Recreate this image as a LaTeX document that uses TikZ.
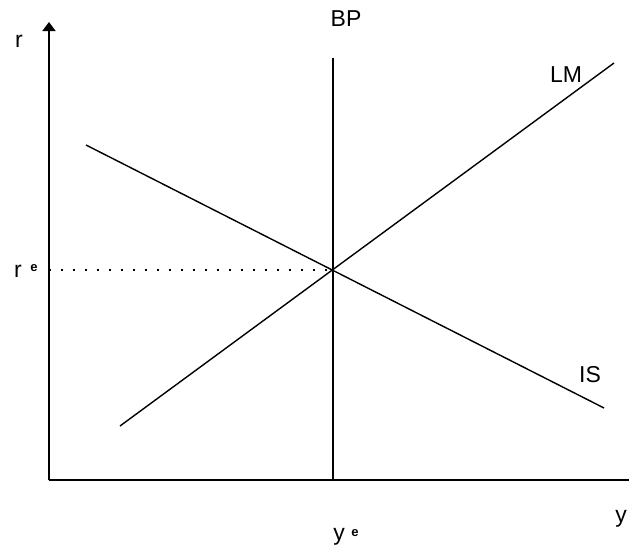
\documentclass[tikz,border=0pt]{standalone}
\usepackage{fontspec}
\setmainfont{Liberation Sans}
\usetikzlibrary{arrows.meta}
\begin{document}
\begin{tikzpicture}[x=1pt,y=-1pt,
  curve/.style={line width=1.4pt},
  axis/.style={line width=1.5pt},
  lbl/.style={inner sep=0pt,font=\fontsize{23}{27}\selectfont},
  sup/.style={inner sep=0pt,font=\fontsize{13}{15}\bfseries\selectfont}]
\useasboundingbox (0,0) rectangle (629,546);
% axes
\coordinate (O) at (49,480);
\coordinate (ytop) at (49,22);
\coordinate (xend) at (629,480);
\draw[axis,-{Triangle[length=9pt,width=13pt]}] (O) -- (ytop);
\draw[axis] (O) -- (xend);
% BP
\coordinate (bpT) at (333,58);
\coordinate (bpB) at (333,480);
\draw[curve] (bpT) -- (bpB);
% LM
\coordinate (lmA) at (120,426);
\coordinate (lmB) at (614,63);
\draw[curve] (lmA) -- (lmB);
% IS
\coordinate (isA) at (86,145);
\coordinate (isB) at (604,408);
\draw[curve] (isA) -- (isB);
% equilibrium
\coordinate (E) at (333,270);
\coordinate (Ey) at (49,270);
\draw[line width=1.2pt,dash pattern=on 2pt off 10pt] (Ey) -- (E);
% labels
\node[lbl] (lr) at (19,41) {r};
\node[lbl] (lre) at (18,271) {r};
\node[sup] (lres) at (34,268) {e};
\node[lbl] (lbp) at (346,19) {BP};
\node[lbl] (llm) at (566,75) {LM};
\node[lbl] (lis) at (590,375) {IS};
\node[lbl] (ly) at (621,519) {y};
\node[lbl] (lye) at (339,537) {y};
\node[sup] (lyes) at (355,533) {e};
\end{tikzpicture}
\end{document}
